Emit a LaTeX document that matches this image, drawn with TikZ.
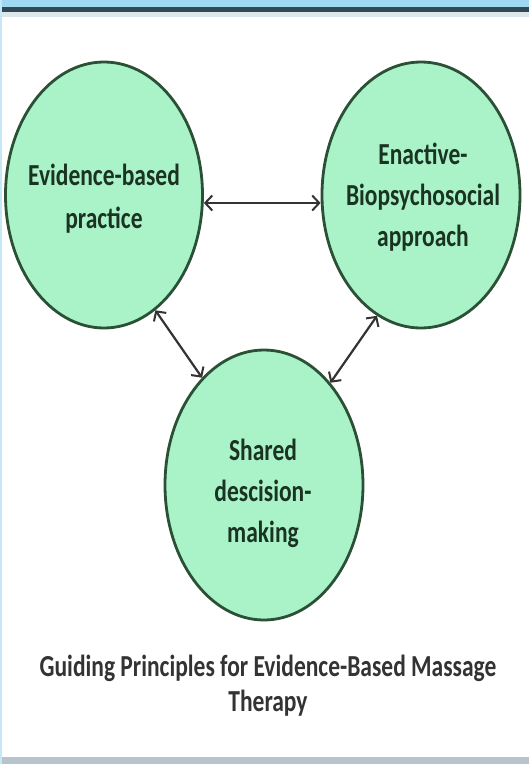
\documentclass[tikz,border=0pt]{standalone}
\usepackage{fontspec}
\setmainfont{Carlito}
\usetikzlibrary{arrows.meta,shapes.geometric}
\definecolor{mint}{HTML}{AAF2C8}
\definecolor{edge}{HTML}{2A5036}
\definecolor{txtg}{HTML}{1A3322}
\definecolor{topblue}{HTML}{9ED8F2}
\definecolor{topdark}{HTML}{2F4A56}
\definecolor{topgray}{HTML}{DDE6EA}
\definecolor{botgray}{HTML}{B8C4CC}
\newcommand{\stl}[1]{\scalebox{1}[1.3]{#1}}
\tikzset{
  bubble/.style={ellipse, draw=edge, line width=2.8pt, fill=mint, inner sep=0pt},
  btext/.style={text=txtg, font=\fontsize{23.5}{41}\selectfont\bfseries, align=center, inner sep=0pt},
  link/.style={draw=black!80, line width=2.2pt, {Straight Barb[length=7pt,width=15pt,line width=2pt]}-{Straight Barb[length=7pt,width=15pt,line width=2pt]}}
}
\begin{document}
\begin{tikzpicture}[x=1pt,y=-1pt]
\useasboundingbox (0,0) rectangle (529,764);
\fill[white] (0,0) rectangle (529,764);
\fill[topblue] (0,0) rectangle (529,7);
\fill[topdark] (0,7) rectangle (529,12);
\fill[topgray] (0,12) rectangle (529,17);
\fill[botgray] (0,757) rectangle (529,764);
\fill[topblue!60] (0,0) rectangle (2,764);
\node[bubble, minimum width=197, minimum height=266] (ebp) at (104,195) {};
\node[bubble, minimum width=198, minimum height=266] (eba) at (421,195) {};
\node[bubble, minimum width=198, minimum height=270] (sdm) at (264,485) {};
\node[btext, font=\fontsize{23.5}{43}\selectfont\bfseries] (ebpt) at (104,199) {\stl{Evidence-based}\\\stl{practice}};
\node[btext] (ebat) at (423,197) {\stl{Enactive-}\\\stl{Biopsychosocial}\\\stl{approach}};
\node[btext] (sdmt) at (263,493) {\stl{Shared}\\\stl{descision-}\\\stl{making}};
\draw[link] (ebp.east |- 0,203) -- (eba.west |- 0,203);
\draw[link] (ebp.-66) -- (sdm.120);
\draw[link] (eba.-110) -- (sdm.57);
\node[font=\fontsize{23.5}{35}\selectfont\bfseries, text=black!80, align=center] (cap) at (268,686)
  {\stl{Guiding Principles for Evidence-Based Massage}\\\stl{Therapy}};
\end{tikzpicture}
\end{document}
